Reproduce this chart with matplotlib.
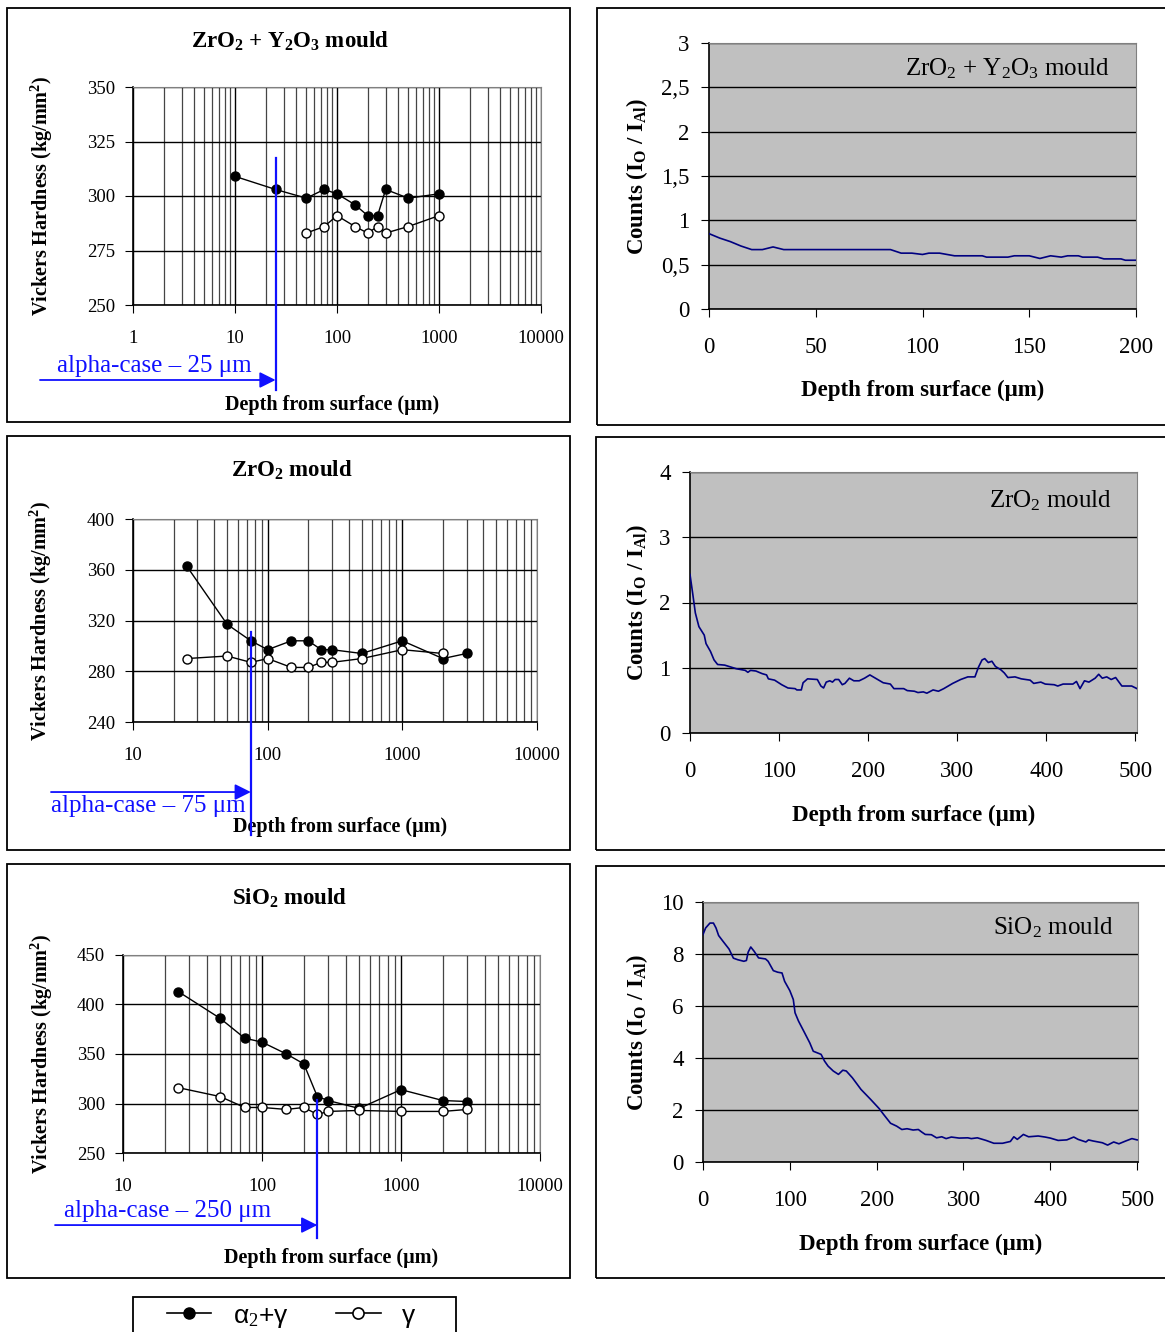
"""
Perfiles de microdureza Vickers (izquierda) y cuentas O/Al (derecha)
para tres moldes: ZrO2 + Y2O3, ZrO2 y SiO2.
Guarda out.png (backend Agg, sin ventana).
"""
import matplotlib
matplotlib.use("Agg")

import matplotlib.pyplot as plt
from matplotlib.lines import Line2D
from matplotlib.patches import Rectangle
from matplotlib.ticker import LogLocator, NullFormatter

plt.rcParams["font.family"] = ["Liberation Serif", "DejaVu Serif"]
plt.rcParams["mathtext.fontset"] = "custom"
plt.rcParams["mathtext.rm"] = "Liberation Serif"
plt.rcParams["mathtext.it"] = "Liberation Serif:italic"
plt.rcParams["mathtext.bf"] = "Liberation Serif:bold"

W, H = 1165, 1332
AZUL = "#1010ff"
NAVY = "#000080"

# ---------------- dureza (paneles izquierdos) ----------------
zy_depth_a = [10, 25, 50, 75, 100, 150, 200, 250, 300, 500, 1000]
zy_hv_a = [309, 303, 299, 303, 301, 296, 291, 291, 303, 299, 301]
zy_depth_g = [50, 75, 100, 150, 200, 250, 300, 500, 1000]
zy_hv_g = [283, 286, 291, 286, 283, 286, 283, 286, 291]

zr_depth_a = [25, 50, 75, 100, 150, 200, 250, 300, 500, 1000, 2000, 3000]
zr_hv_a = [363, 317, 304, 297, 304, 304, 297, 297, 294, 304, 290, 294]
zr_depth_g = [25, 50, 75, 100, 150, 200, 250, 300, 500, 1000, 2000]
zr_hv_g = [290, 292, 287, 290, 283, 283, 287, 287, 290, 297, 294]

si_depth_a = [25, 50, 75, 100, 150, 200, 250, 300, 500, 1000, 2000, 3000]
si_hv_a = [413, 386, 366, 362, 350, 340, 307, 303, 295, 314, 303, 302]
si_depth_g = [25, 50, 75, 100, 150, 200, 250, 300, 500, 1000, 2000, 3000]
si_hv_g = [316, 307, 296, 296, 294, 296, 289, 292, 293, 292, 292, 294]

zy_xticks = [1, 10, 100, 1000, 10000]
zy_xlabels = ["1", "10", "100", "1000", "10000"]
zr_xticks = [10, 100, 1000, 10000]
zr_xlabels = ["10", "100", "1000", "10000"]
zy_yticks = [250, 275, 300, 325, 350]
zr_yticks = [240, 280, 320, 360, 400]
si_yticks = [250, 300, 350, 400, 450]

# espesor de alpha-case (um)
alpha_zy, alpha_zr, alpha_si = 25, 75, 250

# ---------------- cuentas O/Al (paneles derechos) ----------------
zy_x = [0, 5, 10, 15, 20, 25, 30, 35, 50, 70, 85, 90, 95, 100, 103, 108,
        115, 122, 128, 130, 140, 143, 150, 155, 160, 165, 168, 173, 175,
        182, 185, 193, 195, 200]
zy_c = [0.85, 0.80, 0.76, 0.71, 0.67, 0.67, 0.70, 0.67, 0.67, 0.67, 0.67,
        0.63, 0.63, 0.615, 0.63, 0.63, 0.60, 0.60, 0.60, 0.585, 0.585, 0.60,
        0.60, 0.57, 0.60, 0.585, 0.60, 0.60, 0.585, 0.585, 0.565, 0.565,
        0.55, 0.55]

zr_x = [0, 3, 6, 10, 16, 18, 23, 27, 31, 39, 52, 62, 65, 68, 74, 81, 86, 88,
        95, 103, 110, 118, 120, 125, 127, 132, 143, 147, 150, 153, 157, 160,
        163, 167, 171, 174, 179, 184, 190, 196, 202, 207, 217, 225, 229, 240,
        244, 252, 256, 262, 266, 273, 279, 285, 295, 304, 312, 320, 324, 328,
        331, 335, 339, 343, 349, 353, 357, 365, 372, 382, 386, 394, 399, 409,
        413, 419, 430, 434, 438, 443, 448, 455, 459, 463, 468, 473, 478, 485,
        496, 502, 505]
zr_c = [2.43, 2.14, 1.84, 1.63, 1.50, 1.37, 1.25, 1.12, 1.05, 1.04, 0.985,
        0.96, 0.93, 0.96, 0.95, 0.91, 0.89, 0.83, 0.81, 0.74, 0.69, 0.68,
        0.66, 0.66, 0.77, 0.83, 0.82, 0.72, 0.69, 0.78, 0.80, 0.78, 0.82,
        0.82, 0.74, 0.76, 0.84, 0.80, 0.80, 0.84, 0.89, 0.85, 0.77, 0.75,
        0.68, 0.68, 0.65, 0.64, 0.62, 0.63, 0.61, 0.66, 0.64, 0.68, 0.76,
        0.82, 0.86, 0.86, 1.01, 1.12, 1.14, 1.08, 1.10, 1.02, 0.97, 0.92,
        0.85, 0.86, 0.83, 0.81, 0.76, 0.78, 0.75, 0.74, 0.72, 0.75, 0.75,
        0.79, 0.68, 0.80, 0.78, 0.84, 0.90, 0.84, 0.86, 0.82, 0.85, 0.72,
        0.72, 0.68, 0.65]

si_x = [0, 3, 8, 12, 15, 18, 23, 30, 35, 40, 47, 50, 52, 55, 59, 64, 72, 75,
        81, 86, 91, 94, 100, 104, 106, 110, 117, 123, 127, 136, 140, 144, 150,
        156, 161, 165, 172, 182, 193, 203, 208, 216, 223, 229, 235, 242, 248,
        252, 256, 263, 269, 275, 280, 286, 295, 305, 309, 316, 326, 335, 345,
        354, 358, 362, 369, 375, 386, 394, 400, 409, 419, 427, 432, 441, 444,
        449, 460, 466, 473, 479, 487, 494, 500]
si_c = [8.75, 9.0, 9.19, 9.19, 9.0, 8.71, 8.49, 8.19, 7.84, 7.78, 7.72, 7.75,
        8.07, 8.27, 8.10, 7.85, 7.81, 7.72, 7.36, 7.30, 7.27, 6.95, 6.59, 6.25,
        5.74, 5.42, 4.97, 4.58, 4.26, 4.14, 3.88, 3.69, 3.50, 3.37, 3.53, 3.50,
        3.24, 2.79, 2.41, 2.05, 1.83, 1.49, 1.38, 1.25, 1.28, 1.23, 1.25, 1.15,
        1.06, 1.05, 0.93, 0.97, 0.90, 0.96, 0.92, 0.93, 0.90, 0.93, 0.83, 0.72,
        0.72, 0.79, 0.97, 0.87, 1.06, 0.97, 1.00, 0.96, 0.92, 0.83, 0.85, 0.96,
        0.87, 0.77, 0.85, 0.81, 0.74, 0.65, 0.77, 0.70, 0.81, 0.90, 0.85]

zy_cticks = [0, 0.5, 1, 1.5, 2, 2.5, 3]
zy_clabels = ["0", "0,5", "1", "1,5", "2", "2,5", "3"]
zr_cticks = [0, 1, 2, 3, 4]
si_cticks = [0, 2, 4, 6, 8, 10]
zy_dticks = [0, 50, 100, 150, 200]
d500_ticks = [0, 100, 200, 300, 400, 500]


def ejes(fig, x0, y0, x1, y1):
    """Crea unos ejes a partir de su caja en pixeles (origen arriba)."""
    return fig.add_axes([x0 / W, 1 - y1 / H, (x1 - x0) / W, (y1 - y0) / H])


def marco(fig, x0, y0, x1, y1):
    fig.add_artist(Rectangle((x0 / W, 1 - y1 / H), (x1 - x0) / W,
                             (y1 - y0) / H, transform=fig.transFigure,
                             fill=False, edgecolor="black", lw=1.3))


def panel_dureza(ax, da, ha, dg, hg, xticks, xlabels, yticks, alpha,
                 vline, arrow_y, arrow_x0, text_xy, xlab_xy, ylab_x):
    ax.plot(da, ha, color="black", lw=1, marker="o", ms=6.5,
            mfc="black", mec="black", zorder=3)
    ax.plot(dg, hg, color="black", lw=1, marker="o", ms=6.5,
            mfc="white", mec="black", mew=1, zorder=3)
    ax.set_xscale("log")
    ax.set_xlim(xticks[0], xticks[-1])
    ax.set_ylim(yticks[0], yticks[-1])
    ax.set_xticks(xticks)
    ax.set_xticklabels(xlabels)
    ax.xaxis.set_minor_locator(LogLocator(base=10, subs=range(2, 10)))
    ax.xaxis.set_minor_formatter(NullFormatter())
    ax.set_yticks(yticks)
    ax.set_axisbelow(True)
    ax.grid(which="major", color="black", lw=1)
    ax.grid(which="minor", axis="x", color="#454545", lw=0.9)
    ax.tick_params(which="minor", length=0)
    ax.tick_params(axis="x", which="major", direction="out", length=6,
                   pad=12, labelsize=13.5)
    ax.tick_params(axis="y", direction="out", length=6, pad=7,
                   labelsize=13.5)
    for s in ("top", "right"):
        ax.spines[s].set_color("#808080")
    for s in ("left", "bottom"):
        ax.spines[s].set_color("black")
        ax.spines[s].set_linewidth(1.2)

    # marca del espesor de alpha-case
    tr = ax.get_xaxis_transform()
    ax.plot([alpha, alpha], vline, transform=tr, color=AZUL, lw=1.6,
            clip_on=False, zorder=4)
    ax.annotate("", xy=(alpha, arrow_y), xycoords=tr,
                xytext=(arrow_x0, arrow_y), textcoords="axes fraction",
                arrowprops=dict(arrowstyle="-|>", color=AZUL, lw=1.3,
                                mutation_scale=24, shrinkA=0, shrinkB=0))
    ax.text(text_xy[0], text_xy[1], f"alpha-case – {alpha} μm",
            transform=ax.transAxes, color=AZUL, fontsize=18, va="center")

    ax.set_xlabel("Depth from surface (μm)", fontsize=14.5,
                  fontweight="bold")
    ax.xaxis.set_label_coords(*xlab_xy)
    ax.set_ylabel(r"Vickers Hardness (kg/mm$^\mathbf{2}$)", fontsize=14.5,
                  fontweight="bold")
    ax.yaxis.set_label_coords(ylab_x, 0.5)


def panel_cuentas(ax, x, c, xticks, yticks, ylabels, xmax, etiqueta,
                  etq_xy, ylab_x, xlab_y):
    ax.set_facecolor("#c0c0c0")
    ax.plot(x, c, color=NAVY, lw=1.2, zorder=3)
    ax.set_xlim(0, xmax)
    ax.set_ylim(yticks[0], yticks[-1])
    ax.set_xticks(xticks)
    ax.set_yticks(yticks)
    if ylabels is not None:
        ax.set_yticklabels(ylabels)
    ax.set_axisbelow(True)
    ax.grid(axis="y", color="black", lw=1)
    ax.tick_params(axis="x", direction="out", length=6, pad=14,
                   labelsize=16.5)
    ax.tick_params(axis="y", direction="out", length=6, pad=8,
                   labelsize=16.5)
    for s in ("top", "right"):
        ax.spines[s].set_color("#808080")
    for s in ("left", "bottom"):
        ax.spines[s].set_color("black")
        ax.spines[s].set_linewidth(1.2)
    ax.text(etq_xy[0], etq_xy[1], etiqueta, transform=ax.transAxes,
            ha="right", va="center", fontsize=18)
    ax.set_xlabel("Depth from surface (μm)", fontsize=16.5,
                  fontweight="bold")
    ax.xaxis.set_label_coords(0.5, xlab_y)
    ax.set_ylabel(r"Counts (I$_\mathbf{O}$ / I$_\mathbf{Al}$)",
                  fontsize=16.5, fontweight="bold")
    ax.yaxis.set_label_coords(ylab_x, 0.5)


fig = plt.figure(figsize=(W / 100, H / 100), dpi=100)

# marcos de los seis paneles
marco(fig, 7, 8, 570, 422)
marco(fig, 7, 436, 570, 850)
marco(fig, 7, 864, 570, 1278)
marco(fig, 597, 8, 1170, 425)
marco(fig, 596, 437, 1170, 850)
marco(fig, 596, 866, 1170, 1278)

# --- izquierda ---
ax1 = ejes(fig, 133, 87, 541, 305)
panel_dureza(ax1, zy_depth_a, zy_hv_a, zy_depth_g, zy_hv_g, zy_xticks,
             zy_xlabels, zy_yticks, alpha_zy, vline=[0.674, -0.39],
             arrow_y=-0.344, arrow_x0=-0.228, text_xy=(-0.186, -0.28),
             xlab_xy=(0.488, -0.413), ylab_x=-0.19)
fig.text(290 / W, 1 - 41 / H, r"ZrO$_\mathbf{2}$ + Y$_\mathbf{2}$O$_\mathbf{3}$ mould",
         ha="center", va="center", fontsize=16.5, fontweight="bold")

ax2 = ejes(fig, 133, 519, 537, 722)
panel_dureza(ax2, zr_depth_a, zr_hv_a, zr_depth_g, zr_hv_g, zr_xticks,
             zr_xlabels, zr_yticks, alpha_zr, vline=[0.443, -0.557],
             arrow_y=-0.345, arrow_x0=-0.203, text_xy=(-0.203, -0.414),
             xlab_xy=(0.512, -0.468), ylab_x=-0.196)
fig.text(292 / W, 1 - 470 / H, r"ZrO$_\mathbf{2}$ mould",
         ha="center", va="center", fontsize=16.5, fontweight="bold")

ax3 = ejes(fig, 123, 955, 540, 1153)
panel_dureza(ax3, si_depth_a, si_hv_a, si_depth_g, si_hv_g, zr_xticks,
             zr_xlabels, si_yticks, alpha_si, vline=[0.268, -0.43],
             arrow_y=-0.364, arrow_x0=-0.163, text_xy=(-0.141, -0.293),
             xlab_xy=(0.499, -0.48), ylab_x=-0.164)
fig.text(290 / W, 1 - 898 / H, r"SiO$_\mathbf{2}$ mould",
         ha="center", va="center", fontsize=16.5, fontweight="bold")

# --- derecha ---
ax4 = ejes(fig, 709, 43, 1136, 309)
panel_cuentas(ax4, zy_x, zy_c, zy_dticks, zy_cticks, zy_clabels, 200,
              r"ZrO$_2$ + Y$_2$O$_3$ mould", (0.939, 0.902), -0.138, -0.266)

ax5 = ejes(fig, 690, 472, 1137, 733)
panel_cuentas(ax5, zr_x, zr_c, d500_ticks, zr_cticks, None, 502,
              r"ZrO$_2$ mould", (0.944, 0.889), -0.089, -0.277)

ax6 = ejes(fig, 703, 902, 1138, 1162)
panel_cuentas(ax6, si_x, si_c, d500_ticks, si_cticks, None, 501,
              r"SiO$_2$ mould", (0.943, 0.90), -0.122, -0.277)

# leyenda comun: caja aparte y entradas sin marco
fig.add_artist(Rectangle((133 / W, 1 - 1345 / H), (456 - 133) / W,
                         (1345 - 1297) / H, transform=fig.transFigure,
                         fill=False, edgecolor="black", lw=1.3))
h_a = Line2D([], [], color="black", lw=1.2, marker="o", ms=8,
             mfc="black", mec="black")
h_g = Line2D([], [], color="black", lw=1.2, marker="o", ms=8,
             mfc="white", mec="black", mew=1.2)
fig.legend([h_a, h_g], ["α$_2$+γ", "γ"], loc="upper left",
           bbox_to_anchor=(160 / W, 1 - 1297 / H), ncol=2, frameon=False,
           prop={"family": "Liberation Sans", "size": 19},
           handlelength=1.7, handletextpad=0.8, columnspacing=1.8,
           borderpad=0.25, borderaxespad=0)

fig.savefig("out.png", dpi=100)
